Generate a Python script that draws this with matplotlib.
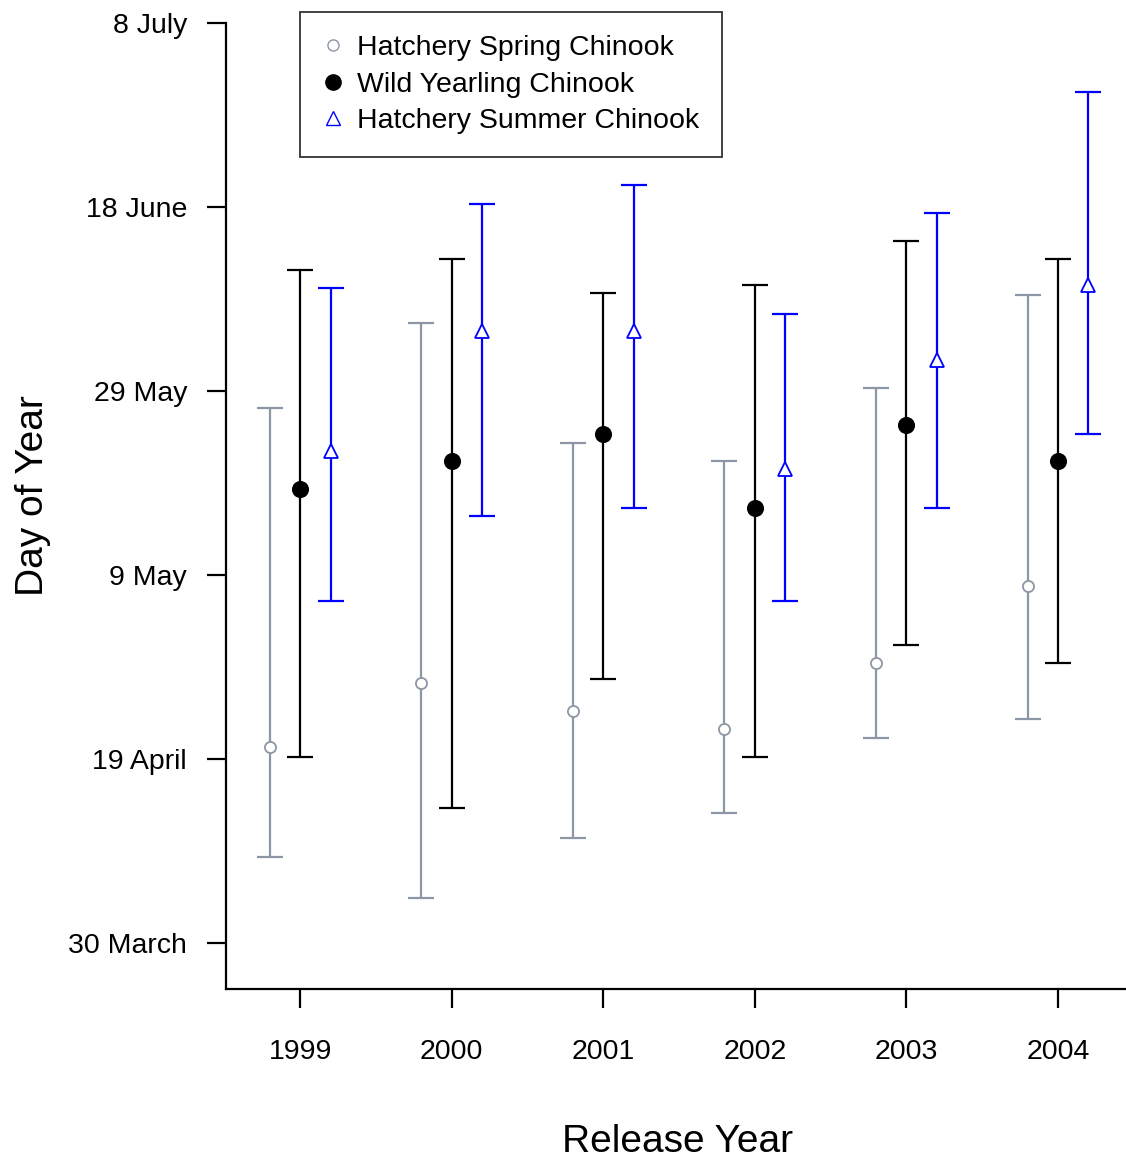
import numpy as np
import matplotlib.pyplot as plt
from matplotlib.lines import Line2D

plt.rcParams['font.family'] = ['Liberation Sans', 'DejaVu Sans']

years = [1999, 2000, 2001, 2002, 2003, 2004]

# day of year: mean and range
spring_mean = [110.3, 117.3, 114.2, 112.3, 119.4, 127.8]
spring_lo = [98.4, 93.9, 100.4, 103.1, 111.3, 113.4]
spring_hi = [147.2, 156.4, 143.3, 141.4, 149.3, 159.4]

wild_mean = [138.4, 141.4, 144.3, 136.3, 145.3, 141.4]
wild_lo = [109.2, 103.7, 117.7, 109.2, 121.4, 119.4]
wild_hi = [162.1, 163.4, 159.6, 160.5, 165.3, 163.4]

summer_mean = [142.5, 155.5, 155.5, 140.5, 152.4, 160.5]
summer_lo = [126.2, 135.4, 136.3, 126.2, 136.3, 144.3]
summer_hi = [160.2, 169.3, 171.4, 157.4, 168.3, 181.5]

day_ticks = [89, 109, 129, 149, 169, 189]
day_labels = ['30 March', '19 April', '9 May', '29 May', '18 June', '8 July']

spring_col = '#8C96A5'
wild_col = 'black'
summer_col = '#0000FF'

fig = plt.figure(figsize=(11.26, 11.59), dpi=100)
ax = fig.add_axes([226 / 1126, 1 - 989 / 1159, 900 / 1126, 966 / 1159])

x = np.array(years, dtype=float)


def draw(xpos, mean, lo, hi, color, marker, ms, mfc):
    mean = np.array(mean)
    err = [mean - np.array(lo), np.array(hi) - mean]
    ax.errorbar(xpos, mean, yerr=err, fmt='none', ecolor=color,
                elinewidth=1.6, capsize=9.5, capthick=1.6, zorder=2)
    ax.plot(xpos, mean, linestyle='none', marker=marker, markersize=ms,
            markerfacecolor=mfc, markeredgecolor=color, markeredgewidth=1.3,
            zorder=3)


draw(x - 0.2, spring_mean, spring_lo, spring_hi, spring_col, 'o', 8, 'white')
draw(x, wild_mean, wild_lo, wild_hi, wild_col, 'o', 11, 'black')
draw(x + 0.2, summer_mean, summer_lo, summer_hi, summer_col, '^', 10, 'white')

ax.set_xlim(1998.51, 2004.45)
ax.set_ylim(84, 189)
ax.set_xticks(years)
ax.set_xticklabels([str(y) for y in years])
ax.set_yticks(day_ticks)
ax.set_yticklabels(day_labels)

for s in ['top', 'right']:
    ax.spines[s].set_visible(False)
for s in ['left', 'bottom']:
    ax.spines[s].set_linewidth(1.6)
ax.tick_params(length=14, width=1.6, labelsize=20.5)
ax.tick_params(axis='y', pad=14)
ax.tick_params(axis='x', pad=22)

ax.set_xlabel('Release Year', fontsize=28)
ax.set_ylabel('Day of Year', fontsize=28)
ax.xaxis.set_label_coords(0.502, -0.14)
ax.yaxis.set_label_coords(-0.1945, 0.511)

handles = [
    Line2D([], [], linestyle='none', marker='o', markersize=8,
           markerfacecolor='white', markeredgecolor=spring_col),
    Line2D([], [], linestyle='none', marker='o', markersize=11,
           markerfacecolor='black', markeredgecolor='black'),
    Line2D([], [], linestyle='none', marker='^', markersize=10,
           markerfacecolor='white', markeredgecolor=summer_col),
]
leg = fig.legend(handles, ['Hatchery Spring Chinook', 'Wild Yearling Chinook',
                           'Hatchery Summer Chinook'],
                 loc='upper left', bbox_to_anchor=(300 / 1126, 1 - 12 / 1159),
                 fontsize=20.5, frameon=True, fancybox=False, edgecolor='black',
                 handlelength=0.75, handletextpad=0.45, labelspacing=0.38,
                 borderpad=0.8, borderaxespad=0)
leg.get_frame().set_linewidth(1.3)

fig.savefig('out.png', dpi=100)
